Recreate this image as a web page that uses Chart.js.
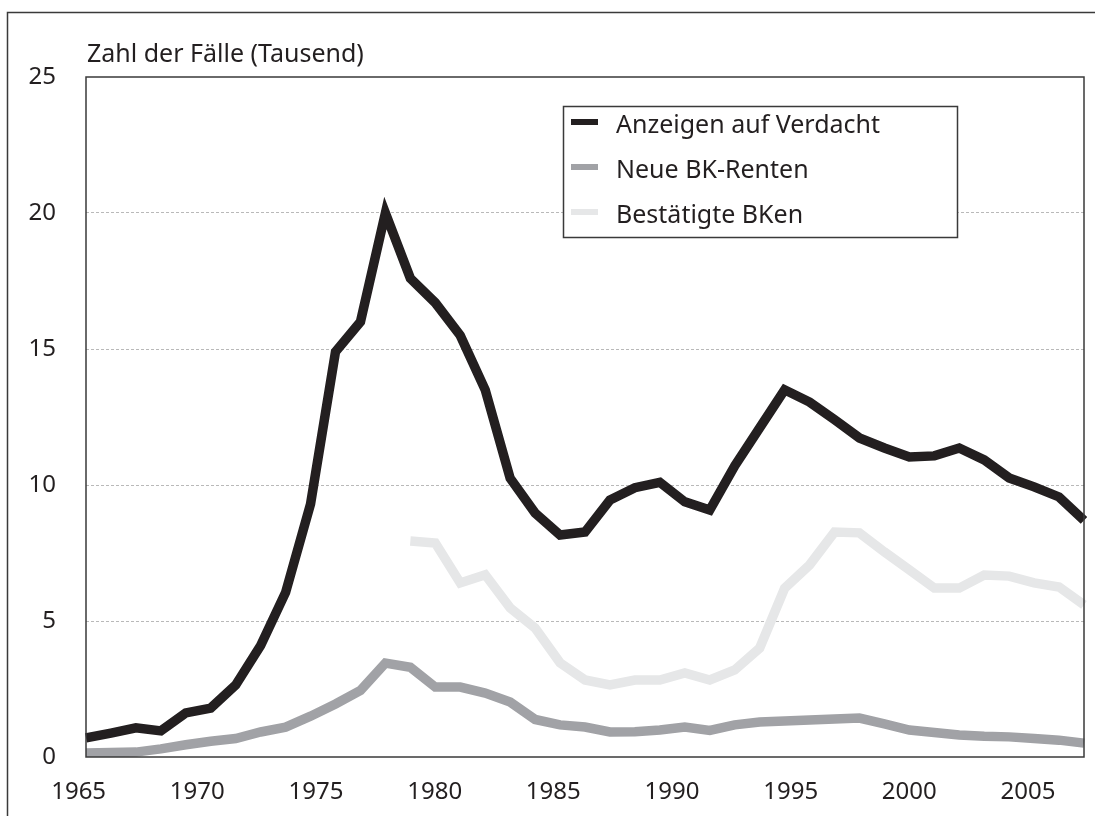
<!DOCTYPE html>
<html>
<head>
<meta charset="utf-8">
<script src="https://cdn.jsdelivr.net/npm/chart.js@4.4.0/dist/chart.umd.min.js"></script>
<style>
  html, body { margin: 0; padding: 0; background: #fff; }
</style>
</head>
<body>
<canvas id="chart" width="1095" height="816"></canvas>
<script>
// Berufskrankheiten: Zahl der Fälle (Tausend)

var jahre = [1966, 1967, 1968, 1969, 1970, 1971, 1972, 1973, 1974, 1975,
             1976, 1977, 1978, 1979, 1980, 1981, 1982, 1983, 1984, 1985,
             1986, 1987, 1988, 1989, 1990, 1991, 1992, 1993, 1994, 1995,
             1996, 1997, 1998, 1999, 2000, 2001, 2002, 2003, 2004, 2005, 2006];

var anzeigen = [0.70, 0.88, 1.07, 0.96, 1.62, 1.80, 2.65, 4.1, 6.05, 9.3,
                14.9, 16.0, 20.0, 17.6, 16.7, 15.5, 13.5, 10.25, 8.97, 8.16,
                8.27, 9.45, 9.9, 10.1, 9.38, 9.08, 10.7, 12.1, 13.5, 13.05,
                12.4, 11.73, 11.36, 11.03, 11.07, 11.36, 10.92, 10.26, 9.93, 9.56, 8.7];

var renten = [0.15, 0.17, 0.18, 0.3, 0.45, 0.58, 0.68, 0.92, 1.1, 1.5,
              1.95, 2.45, 3.45, 3.3, 2.57, 2.57, 2.35, 2.02, 1.38, 1.18,
              1.1, 0.92, 0.93, 0.99, 1.1, 0.98, 1.18, 1.29, 1.32, 1.36,
              1.4, 1.43, 1.22, 0.99, 0.9, 0.81, 0.76, 0.74, 0.68, 0.62, 0.51];

var bestaetigt = [null, null, null, null, null, null, null, null, null, null,
                  null, null, null, 7.94, 7.87, 6.4, 6.7, 5.48, 4.74, 3.46,
                  2.83, 2.65, 2.83, 2.83, 3.09, 2.83, 3.2, 4.0, 6.2, 7.06,
                  8.27, 8.24, 7.54, 6.88, 6.21, 6.21, 6.69, 6.65, 6.4, 6.25, 5.59];

var xTicks = [1965, 1970, 1975, 1980, 1985, 1990, 1995, 2000, 2005];
var yTicks = [0, 5, 10, 15, 20, 25];

var schrift = '"Noto Sans", "DejaVu Sans", sans-serif';
var textFarbe = '#231f20';

// Rahmen, Titel und Legende werden per Plugin gezeichnet
var rahmen = {
  id: 'rahmen',
  afterDraw: function (chart) {
    var ctx = chart.ctx;
    var a = chart.chartArea;
    ctx.save();

    // aeusserer Rahmen (rechts/unten ausserhalb des Bildes)
    ctx.strokeStyle = '#3a3a3a';
    ctx.lineWidth = 1.5;
    ctx.beginPath();
    ctx.moveTo(7.5, 820);
    ctx.lineTo(7.5, 12.5);
    ctx.lineTo(1100, 12.5);
    ctx.stroke();

    // Plotrahmen
    ctx.lineWidth = 1.5;
    ctx.strokeRect(a.left, a.top, a.right - a.left, a.bottom - a.top);

    // Titel
    ctx.fillStyle = textFarbe;
    ctx.font = '25px ' + schrift;
    ctx.textAlign = 'left';
    ctx.textBaseline = 'alphabetic';
    ctx.fillText('Zahl der Fälle (Tausend)', 87, 62);

    // Legende
    var lx = 563, ly = 106, lw = 394, lh = 131;
    ctx.fillStyle = '#fff';
    ctx.fillRect(lx, ly, lw, lh);
    ctx.strokeStyle = '#3a3a3a';
    ctx.lineWidth = 1.5;
    ctx.strokeRect(lx + 0.5, ly + 0.5, lw, lh);
    var basis = [133, 178, 223];
    chart.data.datasets.forEach(function (ds, i) {
      ctx.fillStyle = ds.borderColor;
      ctx.fillRect(571, basis[i] - 14, 27, 6);
      ctx.fillStyle = textFarbe;
      ctx.font = '25px ' + schrift;
      ctx.fillText(ds.label, 616, basis[i]);
    });
    ctx.restore();
  }
};

var ctx = document.getElementById('chart');
var chart = new Chart(ctx, {
  type: 'line',
  data: {
    labels: jahre,
    datasets: [
      {
        label: 'Anzeigen auf Verdacht',
        data: anzeigen,
        borderColor: '#231f20',
        borderWidth: 9.5,
        pointRadius: 0,
        borderJoinStyle: 'miter',
        borderCapStyle: 'butt',
        tension: 0
      },
      {
        label: 'Neue BK-Renten',
        data: renten,
        borderColor: '#a1a2a6',
        borderWidth: 9.5,
        pointRadius: 0,
        borderJoinStyle: 'miter',
        borderCapStyle: 'butt',
        tension: 0
      },
      {
        label: 'Bestätigte BKen',
        data: bestaetigt,
        borderColor: '#e6e7e8',
        borderWidth: 9.5,
        pointRadius: 0,
        borderJoinStyle: 'miter',
        borderCapStyle: 'butt',
        tension: 0
      }
    ]
  },
  options: {
    responsive: false,
    animation: false,
    devicePixelRatio: 1,
    layout: { padding: { left: 0, top: 77, right: 11, bottom: 0 } },
    plugins: {
      legend: { display: false },
      tooltip: { enabled: false },
      title: { display: false }
    },
    scales: {
      x: {
        type: 'category',
        display: false,
        offset: false
      },
      xt: {
        type: 'linear',
        position: 'bottom',
        min: 1965.31,
        max: 2007.36,
        afterBuildTicks: function (s) {
          s.ticks = xTicks.map(function (v) { return { value: v }; });
        },
        afterFit: function (s) { s.height = 59; },
        grid: { display: false, drawTicks: false },
        border: { display: false },
        ticks: {
          padding: 21,
          autoSkip: false,
          maxRotation: 0,
          color: textFarbe,
          font: { family: schrift, size: 24 },
          callback: function (v) { return String(v); }
        }
      },
      y: {
        min: 0,
        max: 25,
        afterBuildTicks: function (s) {
          s.ticks = yTicks.map(function (v) { return { value: v }; });
        },
        afterFit: function (s) { s.width = 86; },
        grid: {
          drawTicks: false,
          lineWidth: 1,
          color: function (c) {
            return (c.tick && (c.tick.value === 0 || c.tick.value === 25)) ? 'rgba(0,0,0,0)' : '#b9b9b9';
          }
        },
        border: { display: false, dash: [3, 2] },
        ticks: {
          padding: 30,
          color: textFarbe,
          font: { family: schrift, size: 24 }
        }
      }
    }
  },
  plugins: [rahmen]
});
</script>
</body>
</html>
